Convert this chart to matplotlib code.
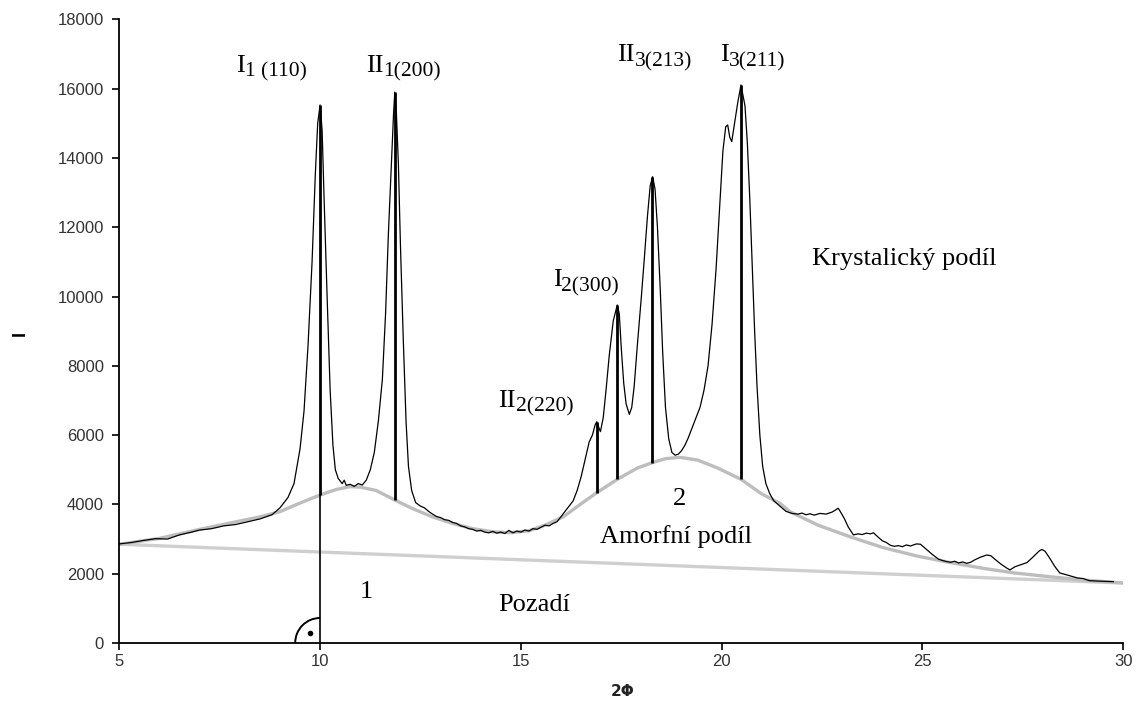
import matplotlib.pyplot as plt
from matplotlib.patches import Arc

# measured diffraction pattern
two_phi = [5.0, 5.3, 5.6, 5.9, 6.2, 6.5, 6.8, 7.0, 7.3, 7.6, 7.9, 8.2, 8.5, 8.8, 9.0,
           9.2, 9.35, 9.5, 9.6, 9.7, 9.8, 9.88, 9.94, 10.0, 10.05, 10.1, 10.18, 10.25,
           10.32, 10.38, 10.45, 10.55, 10.6, 10.65, 10.75, 10.85, 10.95, 11.05, 11.15,
           11.25, 11.35, 11.45, 11.55, 11.63, 11.7, 11.78, 11.83, 11.86, 11.9, 11.95,
           12.0, 12.07, 12.14, 12.2, 12.28, 12.38, 12.5, 12.6, 12.7, 12.8, 12.9, 13.0,
           13.1, 13.2, 13.3, 13.4, 13.5, 13.6, 13.7, 13.8, 13.9, 14.0, 14.1, 14.2, 14.3,
           14.4, 14.5, 14.6, 14.7, 14.8, 14.9, 15.0, 15.1, 15.2, 15.3, 15.4, 15.5, 15.6,
           15.7, 15.8, 15.9, 16.0, 16.1, 16.2, 16.3, 16.4, 16.5, 16.6, 16.7, 16.78,
           16.85, 16.89, 16.93, 16.98, 17.05, 17.12, 17.2, 17.3, 17.4, 17.45, 17.5,
           17.56, 17.62, 17.7, 17.76, 17.82, 17.9, 18.0, 18.08, 18.15, 18.22, 18.28,
           18.34, 18.4, 18.47, 18.53, 18.6, 18.68, 18.76, 18.84, 18.92, 19.0, 19.08,
           19.16, 19.26, 19.36, 19.46, 19.56, 19.66, 19.76, 19.86, 19.95, 20.03, 20.1,
           20.15, 20.2, 20.25, 20.32, 20.4, 20.48, 20.53, 20.58, 20.64, 20.7, 20.76,
           20.82, 20.88, 20.95, 21.02, 21.1, 21.2, 21.3, 21.45, 21.6, 21.75, 21.9, 22.0,
           22.1, 22.2, 22.3, 22.45, 22.6, 22.75, 22.85, 22.9, 22.95, 23.05, 23.15, 23.28,
           23.4, 23.5, 23.6, 23.7, 23.78, 23.9, 24.0, 24.1, 24.2, 24.3, 24.4, 24.5,
           24.6, 24.7, 24.85, 24.95, 25.1, 25.25, 25.4, 25.5, 25.6, 25.7, 25.8, 25.9,
           26.0, 26.1, 26.2, 26.3, 26.45, 26.6, 26.7, 26.8, 26.95, 27.1, 27.18, 27.3,
           27.45, 27.6, 27.75, 27.9, 27.97, 28.05, 28.15, 28.3, 28.42, 28.55, 28.7,
           28.85, 29.0, 29.15, 29.3, 29.5, 29.75]
intensity = [2860, 2900, 2960, 3010, 3000, 3120, 3200, 3260, 3300, 3380, 3420, 3500,
             3580, 3700, 3900,
             4200, 4600, 5600, 6700, 8600, 11000, 13500, 15000, 15527, 14800, 12800,
             9800, 7300,
             5700, 5000, 4750, 4600, 4700, 4550, 4580, 4520, 4600, 4560, 4700,
             5000, 5500, 6400, 7600, 9500, 11800, 14000, 15300, 15900, 15300, 13800,
             11500, 8800, 6400, 5100, 4400, 4050, 3950, 3900, 3800, 3720, 3650, 3620,
             3560, 3540, 3480, 3450, 3380, 3350, 3300, 3280, 3230, 3250, 3200, 3180, 3220,
             3170, 3200, 3160, 3250, 3180, 3230, 3200, 3260, 3230, 3300, 3280, 3340, 3400,
             3380, 3450, 3500, 3650, 3800, 3950, 4100, 4400, 4800, 5300, 5800, 6000,
             6300, 6387, 6250, 6100, 6500, 7300, 8300, 9300, 9755, 9500, 8500,
             7500, 6900, 6600, 6800, 7400, 8600, 10000, 11200, 12300, 13200, 13457,
             13100, 12000, 10200, 8400, 6800, 5900, 5500, 5420, 5450, 5550, 5700,
             5900, 6200, 6500, 6800, 7300, 8000, 9200, 10800, 12600, 14200, 14900,
             14950, 14600, 14470, 15000, 15600, 16104, 15800, 15500, 14400, 12800, 10900,
             9000, 7400, 6000, 5100, 4600, 4300, 4100, 3950, 3800, 3740, 3720, 3750,
             3700, 3730, 3690, 3740, 3720, 3780, 3850, 3890, 3800, 3600, 3350, 3120,
             3150, 3130, 3170, 3150, 3180, 3050, 2950, 2900, 2820, 2790, 2810, 2780,
             2830, 2800, 2860, 2850, 2700, 2550, 2420, 2380, 2350, 2330, 2360, 2310,
             2340, 2300, 2330, 2400, 2480, 2540, 2520, 2420, 2280, 2160, 2110, 2200,
             2260, 2320, 2480, 2650, 2700, 2650, 2480, 2200, 2020, 1980, 1930,
             1880, 1860, 1800, 1790, 1780, 1770]

# amorphous halo
halo_x = [5.0, 6.0, 7.0, 8.0, 8.5, 9.0, 9.5, 10.0, 10.4, 10.74, 11.0, 11.4, 11.86,
          12.3, 12.8, 13.3, 13.8, 14.3, 14.73, 15.2, 15.6, 16.06, 16.5, 16.89, 17.4,
          17.9, 18.27, 18.6, 18.96, 19.4, 19.9, 20.48, 21.0, 21.45, 21.7, 22.4, 23.19,
          24.0, 24.86, 25.7, 26.51, 27.3, 28.17, 29.0, 30.0]
halo_y = [2850, 3020, 3280, 3520, 3640, 3790, 4040, 4271, 4430, 4511, 4500, 4400, 4127,
          3880, 3640, 3450, 3300, 3210, 3183, 3240, 3400, 3645, 4020, 4338, 4724,
          5050, 5204, 5320, 5359, 5280, 5050, 4724, 4300, 4031, 3790, 3400, 3068,
          2760, 2511, 2320, 2155, 2020, 1913, 1818, 1732]

# background line
bg_x = [5.0, 30.0]
bg_y = [2850, 1730]

# crystalline reflections: position, halo level at the foot, top of the peak
peak_pos = [10.0, 11.86, 16.89, 17.40, 18.27, 20.48]
peak_foot = [4271, 4127, 4338, 4724, 5204, 4724]
peak_top = [15527, 15900, 6387, 9755, 13457, 16104]

# reflection labels: main symbol, subscript, left x, baseline y
refl_main = ['I', 'II', 'II', 'I', 'II', 'I']
refl_sub = ['1 (110)', '1(200)', '2(220)', '2(300)', '3(213)', '3(211)']
refl_x = [7.91, 11.14, 14.44, 15.79, 17.39, 19.96]
refl_y = [16486, 16488, 6820, 10303, 16797, 16797]

fig = plt.figure(figsize=(11.4, 7.07), dpi=100)
ax = fig.add_axes([0.10465, 0.09052, 0.88070, 0.88218])

ax.plot(bg_x, bg_y, color='#cfcfcf', lw=2.4, solid_capstyle='butt', zorder=1)
ax.plot(halo_x, halo_y, color='#bdbdbd', lw=2.4, zorder=2)
ax.plot(two_phi, intensity, color='black', lw=0.9, zorder=3)

# peak markers
ax.vlines(peak_pos, peak_foot, peak_top, color='black', lw=2.0, zorder=4)
ax.vlines(peak_pos[0], 0, peak_foot[0], color='black', lw=1.2, zorder=4)

# right angle at the foot of the first marker
ax.add_patch(Arc((peak_pos[0], 0), width=1.24, height=1444, theta1=90, theta2=180,
                 color='black', lw=1.4, zorder=4))
ax.plot([9.76], [280], 'o', color='black', ms=3, zorder=4)

serif = 'Liberation Serif'
for m, s, x, y in zip(refl_main, refl_sub, refl_x, refl_y):
    t = ax.text(x, y, m, family=serif, fontsize=19, va='baseline', ha='left')
    ax.annotate(s, xy=(1, 0), xycoords=t, family=serif, fontsize=15.5,
                va='baseline', ha='left')

ax.text(22.24, 10909, 'Krystalický podíl', family=serif, fontsize=19, va='baseline')
ax.text(18.79, 3983, '2', family=serif, fontsize=19, va='baseline')
ax.text(16.97, 2877, 'Amorfní podíl', family=serif, fontsize=19, va='baseline')
ax.text(10.99, 1299, '1', family=serif, fontsize=19, va='baseline')
ax.text(14.44, 932, 'Pozadí', family=serif, fontsize=19, va='baseline')

ax.set_xlim(5, 30)
ax.set_ylim(0, 18000)
ax.set_xticks([5, 10, 15, 20, 25, 30])
ax.set_yticks(range(0, 18001, 2000))
for side in ['top', 'right']:
    ax.spines[side].set_visible(False)
for side in ['left', 'bottom']:
    ax.spines[side].set_linewidth(1.3)
ax.tick_params(axis='both', direction='out', length=5, width=1.2,
               labelsize=12, labelcolor='#333333')
ax.tick_params(axis='y', pad=6)
ax.tick_params(axis='x', pad=3)
for lbl in ax.get_xticklabels() + ax.get_yticklabels():
    lbl.set_family('Liberation Sans')

fig.text(20 / 1140, 1 - 334 / 707, 'I', rotation=90, ha='center', va='center',
         family='Liberation Sans', fontsize=13, fontweight='bold')
fig.text(623 / 1140, 1 - 691 / 707, '2Φ', ha='center', va='center',
         family='DejaVu Sans', fontsize=11, fontweight='bold', color='#222222')

fig.savefig('out.png', dpi=100)
